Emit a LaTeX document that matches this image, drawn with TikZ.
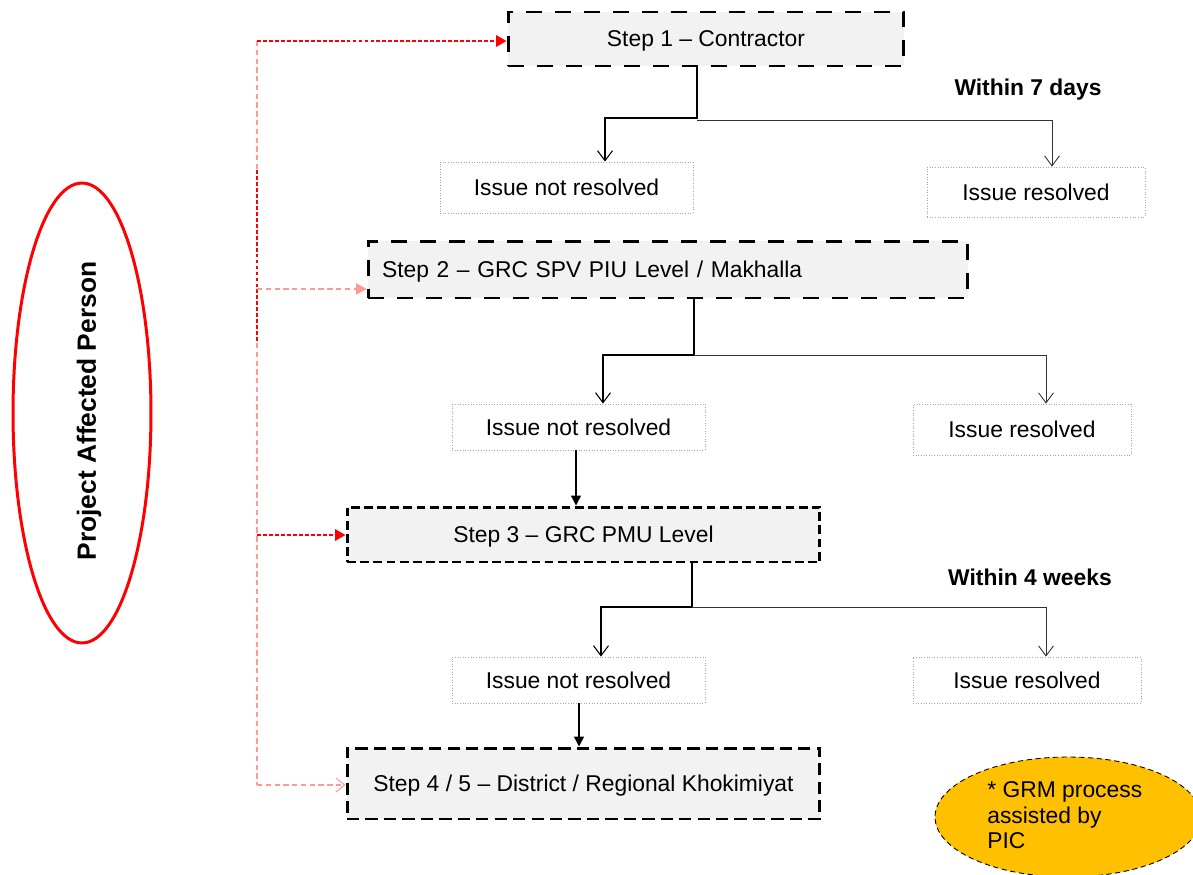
\documentclass[tikz,border=0pt]{standalone}
\usepackage{fontspec}
\setmainfont{Liberation Sans}
\usetikzlibrary{arrows.meta,shapes.geometric}
\definecolor{boxgray}{HTML}{F2F2F2}
\definecolor{gold}{HTML}{FFC000}
\definecolor{pinkline}{HTML}{FF9999}
\tikzset{
  stepbox/.style={draw=black, fill=boxgray, line width=1.7pt, minimum height=#1, inner sep=0pt, text depth=0pt, font=\fontsize{13}{15}\selectfont},
  bigdash/.style={dash pattern=on 9pt off 7.5pt},
  smalldash/.style={dash pattern=on 5pt off 2.5pt},
  issuebox/.style={draw=gray!70, line width=0.5pt, densely dotted, minimum height=#1, inner sep=0pt, font=\fontsize{13}{15}\selectfont},
  br/.style={draw=black, line width=0.8pt, -{Straight Barb[length=5.7pt,width=8.5pt,line width=0.6pt]}},
  brthin/.style={draw=black!80, line width=0.5pt, -{Straight Barb[length=5.7pt,width=8.5pt,line width=0.5pt]}},
  down/.style={draw=black, line width=0.8pt, -{Triangle[length=5.7pt,width=5.7pt]}},
  reddark/.style={draw=red, line width=1.2pt, dash pattern=on 2.2pt off 1.2pt},
  redlight/.style={draw=pinkline, line width=0.6pt, dash pattern=on 3pt off 2pt},
  lbl/.style={font=\bfseries\fontsize{13}{15}\selectfont, inner sep=0pt}
}
\begin{document}
\begin{tikzpicture}[x=0.02cm,y=-0.02cm]
\useasboundingbox (0,0) rectangle (1193,875);

% Step boxes
\node[stepbox=1.08cm, bigdash, minimum width=7.92cm] (s1) at (706,39) {Step 1 -- Contractor};
\node[stepbox=1.14cm, bigdash, minimum width=12cm, text width=11.44cm, align=left] (s2) at (668,269.5) {Step 2 -- GRC SPV PIU Level / Makhalla};
\node[stepbox=1.1cm, smalldash, minimum width=9.46cm] (s3) at (583.5,534.5) {Step 3 -- GRC PMU Level};
\node[stepbox=1.42cm, dash pattern=on 7pt off 3.5pt, minimum width=9.46cm] (s4) at (583.5,783.5) {Step 4 / 5 -- District / Regional Khokimiyat};

% Issue boxes
\node[issuebox=1.02cm, minimum width=5.06cm] (n1) at (566.5,187.5) {Issue not resolved};
\node[issuebox=1.0cm, minimum width=4.36cm] (r1) at (1036,192) {Issue resolved};
\node[issuebox=0.92cm, minimum width=5.06cm] (n2) at (578.5,427) {Issue not resolved};
\node[issuebox=1.02cm, minimum width=4.36cm] (r2) at (1022,429.5) {Issue resolved};
\node[issuebox=0.92cm, minimum width=5.06cm] (n3) at (578.5,680) {Issue not resolved};
\node[issuebox=0.92cm, minimum width=4.56cm] (r3) at (1027,680) {Issue resolved};

% Labels
\node[lbl] (w7) at (1028,90) {Within 7 days};
\node[lbl] (w4) at (1030,577) {Within 4 weeks};

% Project Affected Person
\node[draw=red, line width=1.7pt, ellipse, minimum width=2.76cm, minimum height=9.2cm, inner sep=0pt] (pap) at (82,413) {};
\node[font=\bfseries\fontsize{15}{17}\selectfont, rotate=90, inner sep=0pt] (paptxt) at (89,411) {Project Affected Person};

% GRM ellipse
\node[draw=black, line width=0.5pt, densely dashed, fill=gold, ellipse, minimum width=5.32cm, minimum height=2.4cm, inner sep=0pt] (grm) at (1068,817) {};
\node[font=\fontsize{13}{14.7}\selectfont, align=left, anchor=north west, inner sep=0pt] (grmtxt) at (987,781) {* GRM process\\assisted by\\PIC};

% Branches from step 1
\coordinate (j1) at (697,118);
\coordinate (t1L) at (605,118);
\coordinate (t1R) at (1052,120);
\draw[br] (j1 |- s1.south) -- (j1) -- (t1L) -- (t1L |- n1.north);
\draw[brthin] (j1 |- t1R) -- (t1R) -- (t1R |- r1.north);

% Branches from step 2
\coordinate (j2) at (694,355);
\coordinate (t2L) at (603,355);
\coordinate (t2R) at (1046,355);
\draw[br] (j2 |- s2.south) -- (j2) -- (t2L) -- (t2L |- n2.north);
\draw[brthin] (j2) -- (t2R) -- (t2R |- r2.north);

% Branches from step 3
\coordinate (j3) at (692,607);
\coordinate (t3L) at (601,607);
\coordinate (t3R) at (1046,607);
\draw[br] (j3 |- s3.south) -- (j3) -- (t3L) -- (t3L |- n3.north);
\draw[brthin] (j3) -- (t3R) -- (t3R |- r3.north);

% Not resolved -> next step
\coordinate (d2) at (576,450);
\draw[down] (d2 |- n2.south) -- (d2 |- s3.north);
\coordinate (d3) at (579,703);
\draw[down] (d3 |- n3.south) -- (d3 |- s4.north);

% Red feedback lines
\coordinate (v1) at (257,41);
\coordinate (v2) at (257,170);
\coordinate (v3) at (257,343);
\coordinate (v4) at (257,785);
\draw[redlight] (v1) -- (v2);
\draw[reddark] (v2) -- (v3);
\draw[redlight] (v3) -- (v4);
\draw[reddark, -{Triangle[length=6pt,width=6.5pt]}] (v1) -- (v1 -| s1.west);
\draw[redlight, -{Triangle[length=6pt,width=6.5pt]}] (257,289) -- (s2.west |- 0,289);
\draw[reddark, -{Triangle[length=6pt,width=6.5pt]}] (257,535) -- (s3.west |- 0,535);
\draw[redlight, -{Straight Barb[length=5pt,width=8pt]}] (v4) -- (v4 -| s4.west);
\end{tikzpicture}
\end{document}
